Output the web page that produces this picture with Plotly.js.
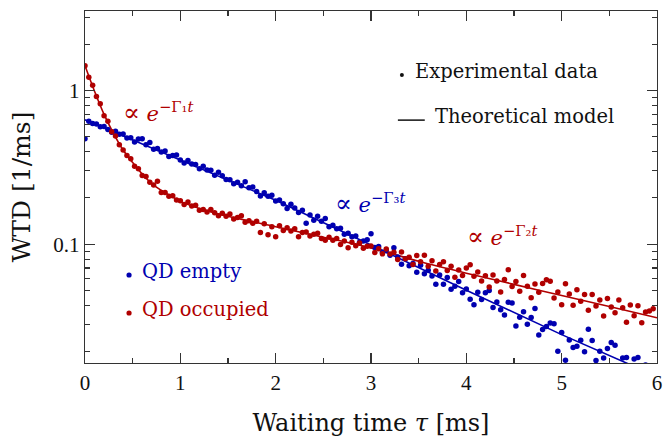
<!DOCTYPE html>
<html><head><meta charset="utf-8">
<script src="https://cdn.plot.ly/plotly-3.0.1.min.js"></script>
<style>html,body{margin:0;padding:0;background:#fff}#chart{width:663px;height:438px}</style>
</head><body><div id="chart"></div>
<script>
// waiting time bins [ms]
const tau = [0,0.04,0.08,0.12,0.16,0.2,0.24,0.28,0.32,0.36,0.4,0.44,0.48,0.52,0.56,0.6,0.64,0.68,0.72,0.76,0.8,0.84,0.88,0.92,0.96,
1,1.04,1.08,1.12,1.16,1.2,1.24,1.28,1.32,1.36,1.4,1.44,1.48,1.52,1.56,1.6,1.64,1.68,1.72,1.76,1.8,1.84,1.88,1.92,1.96,
2,2.04,2.08,2.12,2.16,2.2,2.24,2.28,2.32,2.36,2.4,2.44,2.48,2.52,2.56,2.6,2.64,2.68,2.72,2.76,2.8,2.84,2.88,2.92,2.96,
3,3.04,3.08,3.12,3.16,3.2,3.24,3.28,3.32,3.36,3.4,3.44,3.48,3.52,3.56,3.6,3.64,3.68,3.72,3.76,3.8,3.84,3.88,3.92,3.96,
4,4.04,4.08,4.12,4.16,4.2,4.24,4.28,4.32,4.36,4.4,4.44,4.48,4.52,4.56,4.6,4.64,4.68,4.72,4.76,4.8,4.84,4.88,4.92,4.96,
5,5.04,5.08,5.12,5.16,5.2,5.24,5.28,5.32,5.36,5.4,5.44,5.48,5.52,5.56,5.6,5.64,5.68,5.72,5.76,5.8,5.84,5.88,5.92,5.96];

// experimental WTD, QD empty [1/ms]
const wtdEmpty = [0.486,0.630,0.609,0.606,0.580,0.583,0.558,0.534,0.543,0.519,
0.522,0.490,0.493,0.462,0.483,0.485,0.443,0.458,0.414,0.420,
0.398,0.404,0.372,0.378,0.380,0.353,0.338,0.350,0.332,0.330,
0.310,0.321,0.304,0.303,0.281,0.294,0.279,0.264,0.263,0.247,
0.253,0.240,0.255,0.233,0.236,0.220,0.206,0.216,0.205,0.208,
0.191,0.194,0.183,0.171,0.182,0.172,0.161,0.166,0.137,0.155,
0.143,0.152,0.141,0.147,0.130,0.133,0.126,0.127,0.116,0.118,
0.112,0.113,0.103,0.105,0.107,0.117,0.0952,0.0965,0.0885,0.0905,
0.0847,0.0949,0.0826,0.0740,0.0805,0.0724,0.0748,0.0657,0.0729,0.0642,
0.0678,0.0621,0.0548,0.0630,0.0549,0.0608,0.0509,0.0533,0.0571,0.0484,
0.0511,0.0439,0.0404,0.0486,0.0437,0.0483,0.0500,0.0387,0.0421,0.0374,
0.0346,0.0419,0.0415,0.0294,0.0335,0.0363,0.0301,0.0334,0.0381,0.0257,
0.0279,0.0292,0.0307,0.0304,0.0201,0.0266,0.0176,0.0238,0.0213,0.0217,
0.0237,0.0200,0.0280,0.0236,0.0175,0.0201,0.0182,0.0210,0.0229,0.0220,
0.0156,0.0182,0.0183,0.0151,0.0179,0.0183,0.0138,0.0164,0.0148,0.0150];

// experimental WTD, QD occupied [1/ms]
const wtdOccupied = [1.45,1.22,1.08,0.915,0.820,0.686,0.630,0.539,0.505,0.444,
0.410,0.377,0.360,0.322,0.310,0.280,0.276,0.253,0.243,0.257,
0.217,0.217,0.205,0.207,0.194,0.192,0.181,0.188,0.177,0.179,
0.166,0.168,0.162,0.168,0.160,0.153,0.159,0.152,0.157,0.146,
0.149,0.153,0.139,0.142,0.137,0.141,0.119,0.136,0.115,0.130,
0.112,0.132,0.123,0.128,0.122,0.126,0.112,0.119,0.120,0.113,
0.116,0.118,0.109,0.106,0.111,0.106,0.109,0.0996,0.105,0.0950,
0.103,0.0976,0.102,0.0942,0.0969,0.0974,0.0884,0.0934,0.0866,0.0931,
0.0864,0.0886,0.0795,0.0891,0.0803,0.0822,0.0738,0.0843,0.0769,0.0849,
0.0718,0.0781,0.0669,0.0737,0.0770,0.0675,0.0720,0.0609,0.0680,0.0625,
0.0700,0.0735,0.0618,0.0659,0.0577,0.0624,0.0526,0.0631,0.0576,0.0488,
0.0590,0.0682,0.0530,0.0571,0.0494,0.0625,0.0533,0.0449,0.0550,0.0487,
0.0556,0.0587,0.0575,0.0447,0.0489,0.0404,0.0554,0.0475,0.0401,0.0506,
0.0425,0.0471,0.0372,0.0471,0.0396,0.0434,0.0341,0.0444,0.0390,0.0358,
0.0433,0.0386,0.0311,0.0402,0.0342,0.0398,0.0308,0.0362,0.0368,0.0380];

// theoretical model curves
const modelTauEmpty = [0,1,2,3,4,5,6];
const modelEmpty = [0.645,0.353,0.193,0.0989,0.0501,0.0258,0.0138];
const modelTauOccupied = [0,0.1,0.2,0.3,0.4,0.5,0.6,0.7,0.8,0.9,1.0,1.25,1.5,2.0,2.5,3.0,3.5,4.0,4.5,5.0,5.5,6.0];
const modelOccupied = [1.45,0.99,0.70,0.525,0.41,0.34,0.286,0.248,0.224,0.206,0.190,0.167,0.152,0.130,0.111,0.0946,0.0775,0.0648,0.0548,0.0464,0.0393,0.0332];

// axis ticks
const xTicks = [0,1,2,3,4,5,6];
const xMinorTicks = [0.5,1.5,2.5,3.5,4.5,5.5];
const yTicks = [0.1,1];
const yTickText = ['0.1','1'];
const yMinorTicks = [0.02,0.03,0.04,0.05,0.06,0.07,0.08,0.09,0.2,0.3,0.4,0.5,0.6,0.7,0.8,0.9,2,3];

// annotation labels
const rateLabels = ['Γ₁', 'Γ₃', 'Γ₂'];

const BLUE = '#0000b0';
const RED = '#b00000';
const FONT = 'DejaVu Serif, serif';
const NUMFONT = 'Liberation Serif, DejaVu Serif, serif';

const traces = [
  {x: modelTauEmpty, y: modelEmpty, mode: 'lines', line: {color: BLUE, width: 1.6}, hoverinfo: 'skip'},
  {x: modelTauOccupied, y: modelOccupied, mode: 'lines', line: {color: RED, width: 1.6, shape: 'spline', smoothing: 0.8}, hoverinfo: 'skip'},
  {x: tau, y: wtdEmpty, mode: 'markers', marker: {color: BLUE, size: 5.5}},
  {x: tau, y: wtdOccupied, mode: 'markers', marker: {color: RED, size: 5.5}}
];

const axisCommon = {
  showgrid: false, zeroline: false, showline: true, linecolor: '#333', linewidth: 1.3,
  ticks: 'inside', ticklen: 10, tickwidth: 1.1, tickcolor: '#333', mirror: 'allticks',
  tickfont: {family: NUMFONT, size: 21, color: '#111'}
};

function rateText(g) {
  return '<span style="font-size:25px">∝</span> <i>e</i><sup>−' + g + '<i>t</i></sup>';
}

const layout = {
  width: 663, height: 438,
  margin: {l: 85, r: 6, t: 11, b: 75},
  paper_bgcolor: '#fff', plot_bgcolor: '#fff',
  showlegend: false,
  xaxis: Object.assign({}, axisCommon, {
    range: [0, 6], tickmode: 'array', tickvals: xTicks, ticktext: xTicks.map(String),
    minor: {tickvals: xMinorTicks, ticks: 'inside', ticklen: 5, tickwidth: 1.1, tickcolor: '#333'},
    title: {text: 'Waiting time <i>τ</i> [ms]', font: {family: FONT, size: 24, color: '#111'}, standoff: 20}
  }),
  yaxis: Object.assign({}, axisCommon, {
    type: 'log', range: [Math.log10(0.01687), Math.log10(3.29)],
    tickmode: 'array', tickvals: yTicks, ticktext: yTickText,
    minor: {tickvals: yMinorTicks, ticks: 'inside', ticklen: 5, tickwidth: 1.1, tickcolor: '#333'},
    title: {text: 'WTD [1/ms]', font: {family: FONT, size: 25, color: '#111'}, standoff: 15}
  }),
  annotations: [
    {xref: 'paper', yref: 'paper', x: 0.063, y: 0.712, xanchor: 'left', yanchor: 'middle', showarrow: false,
     text: rateText(rateLabels[0]), font: {family: FONT, size: 21, color: RED}},
    {xref: 'paper', yref: 'paper', x: 0.433, y: 0.454, xanchor: 'left', yanchor: 'middle', showarrow: false,
     text: rateText(rateLabels[1]), font: {family: FONT, size: 21, color: BLUE}},
    {xref: 'paper', yref: 'paper', x: 0.664, y: 0.360, xanchor: 'left', yanchor: 'middle', showarrow: false,
     text: rateText(rateLabels[2]), font: {family: FONT, size: 21, color: RED}},
    {xref: 'paper', yref: 'paper', x: 0.573, y: 0.827, xanchor: 'left', yanchor: 'middle', showarrow: false,
     text: 'Experimental data', font: {family: FONT, size: 19.5, color: '#111'}},
    {xref: 'paper', yref: 'paper', x: 0.608, y: 0.699, xanchor: 'left', yanchor: 'middle', showarrow: false,
     text: 'Theoretical model', font: {family: FONT, size: 19.5, color: '#111'}},
    {xref: 'paper', yref: 'paper', x: 0.097, y: 0.261, xanchor: 'left', yanchor: 'middle', showarrow: false,
     text: 'QD empty', font: {family: FONT, size: 19.5, color: BLUE}},
    {xref: 'paper', yref: 'paper', x: 0.097, y: 0.153, xanchor: 'left', yanchor: 'middle', showarrow: false,
     text: 'QD occupied', font: {family: FONT, size: 19.5, color: RED}}
  ],
  shapes: [
    {type: 'circle', xref: 'paper', yref: 'paper', xsizemode: 'pixel', ysizemode: 'pixel',
     xanchor: 0.554, yanchor: 0.818, x0: -2, x1: 2, y0: -2, y1: 2, fillcolor: '#111', line: {width: 0}},
    {type: 'line', xref: 'paper', yref: 'paper', x0: 0.547, x1: 0.594, y0: 0.690, y1: 0.690, line: {color: '#111', width: 1.5}},
    {type: 'circle', xref: 'paper', yref: 'paper', xsizemode: 'pixel', ysizemode: 'pixel',
     xanchor: 0.077, yanchor: 0.250, x0: -2.6, x1: 2.6, y0: -2.6, y1: 2.6, fillcolor: BLUE, line: {width: 0}},
    {type: 'circle', xref: 'paper', yref: 'paper', xsizemode: 'pixel', ysizemode: 'pixel',
     xanchor: 0.077, yanchor: 0.142, x0: -2.6, x1: 2.6, y0: -2.6, y1: 2.6, fillcolor: RED, line: {width: 0}}
  ]
};

Plotly.newPlot('chart', traces, layout, {displayModeBar: false, staticPlot: true});
</script>
</body></html>
